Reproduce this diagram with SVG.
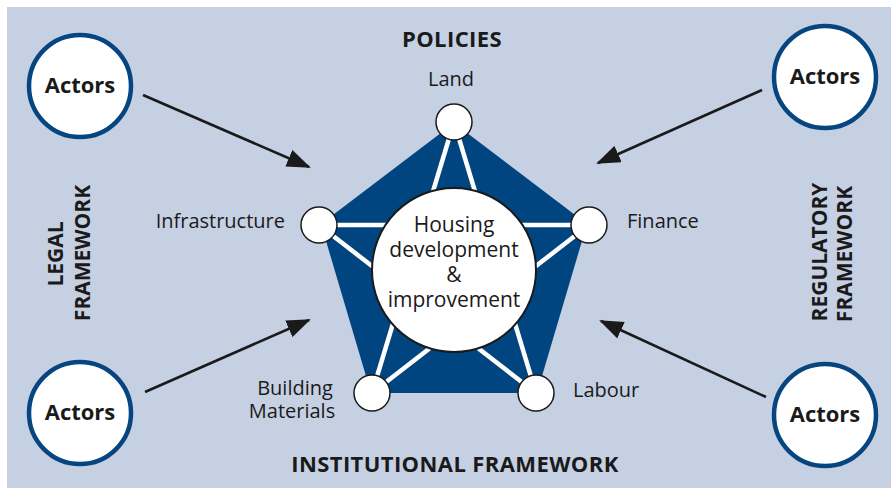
<svg xmlns="http://www.w3.org/2000/svg" width="891" height="493" viewBox="0 0 891 493">
<style>
text{font-family:"Open Sans","Liberation Sans",sans-serif;fill:#1a1a1a}
.h{font-size:22px;font-weight:bold;letter-spacing:0.4px}
.v{font-size:21px;font-weight:bold}
.lab{font-size:20px}
.cen{font-size:21px}
.act{font-size:22px;font-weight:bold}
.actor{fill:#fff;stroke:#06457f;stroke-width:4.5}
.node{fill:#fff;stroke:#1a1a1a;stroke-width:1.5}
.spoke{stroke:#fff;stroke-width:4.5;fill:none}
.arrow{stroke:#1a1a1a;stroke-width:2.6;fill:none;marker-end:url(#ah)}
</style>
<defs>
<marker id="ah" markerUnits="userSpaceOnUse" markerWidth="24" markerHeight="18" viewBox="0 0 24 18" refX="22" refY="9" orient="auto">
<path d="M0,0 L24,9 L0,18 Z" fill="#1a1a1a"/>
</marker>
</defs>
<rect x="7" y="7" width="884" height="481" fill="#c6d0e3"/>
<g id="connectors">
<line class="arrow" x1="143" y1="95" x2="309" y2="167"/>
<line class="arrow" x1="762" y1="90" x2="598" y2="163"/>
<line class="arrow" x1="145" y1="392" x2="309" y2="320"/>
<line class="arrow" x1="766" y1="397" x2="601" y2="321"/>
</g>
<g id="pentagon">
<polygon points="454,123 587,224 537,393 371,393 321,224" fill="#00457f"/>
<line class="spoke" x1="454" y1="122" x2="372" y2="393"/>
<line class="spoke" x1="454" y1="122" x2="536" y2="393"/>
<line class="spoke" x1="319" y1="225" x2="589" y2="225"/>
<line class="spoke" x1="319" y1="225" x2="536" y2="393"/>
<line class="spoke" x1="589" y1="225" x2="372" y2="393"/>
</g>
<g id="center">
<circle cx="454" cy="270" r="82" fill="#fff" stroke="#1a1a1a" stroke-width="2"/>
<text class="cen" x="454" y="232" text-anchor="middle">Housing</text>
<text class="cen" x="454" y="257" text-anchor="middle">development</text>
<text class="cen" x="454" y="282" text-anchor="middle">&amp;</text>
<text class="cen" x="454" y="307" text-anchor="middle">improvement</text>
</g>
<g id="land"><circle class="node" cx="454" cy="122" r="18"/><text class="lab" x="451" y="86" text-anchor="middle">Land</text></g>
<g id="infrastructure"><circle class="node" cx="319" cy="225" r="18"/><text class="lab" x="285" y="228" text-anchor="end">Infrastructure</text></g>
<g id="finance"><circle class="node" cx="589" cy="225" r="18"/><text class="lab" x="627" y="228">Finance</text></g>
<g id="building-materials"><circle class="node" cx="372" cy="393" r="18"/><text class="lab" x="295" y="395" text-anchor="middle">Building</text><text class="lab" x="292" y="418" text-anchor="middle">Materials</text></g>
<g id="labour"><circle class="node" cx="536" cy="393" r="18"/><text class="lab" x="573" y="397">Labour</text></g>
<g id="actors-tl"><circle class="actor" cx="80" cy="86" r="51"/><text class="act" x="80" y="93" text-anchor="middle">Actors</text></g>
<g id="actors-tr"><circle class="actor" cx="825" cy="77" r="51"/><text class="act" x="825" y="84" text-anchor="middle">Actors</text></g>
<g id="actors-bl"><circle class="actor" cx="80" cy="413" r="51"/><text class="act" x="80" y="420" text-anchor="middle">Actors</text></g>
<g id="actors-br"><circle class="actor" cx="825" cy="415" r="51"/><text class="act" x="825" y="422" text-anchor="middle">Actors</text></g>
<g id="labels">
<text class="h" x="452" y="47" text-anchor="middle">POLICIES</text>
<text class="h" x="455" y="472" text-anchor="middle">INSTITUTIONAL FRAMEWORK</text>
<text class="v" transform="translate(63,254) rotate(-90)" text-anchor="middle">LEGAL</text>
<text class="v" transform="translate(90,253) rotate(-90)" text-anchor="middle">FRAMEWORK</text>
<text class="v" transform="translate(827,252) rotate(-90)" text-anchor="middle">REGULATORY</text>
<text class="v" transform="translate(852,254) rotate(-90)" text-anchor="middle">FRAMEWORK</text>
</g>
</svg>
